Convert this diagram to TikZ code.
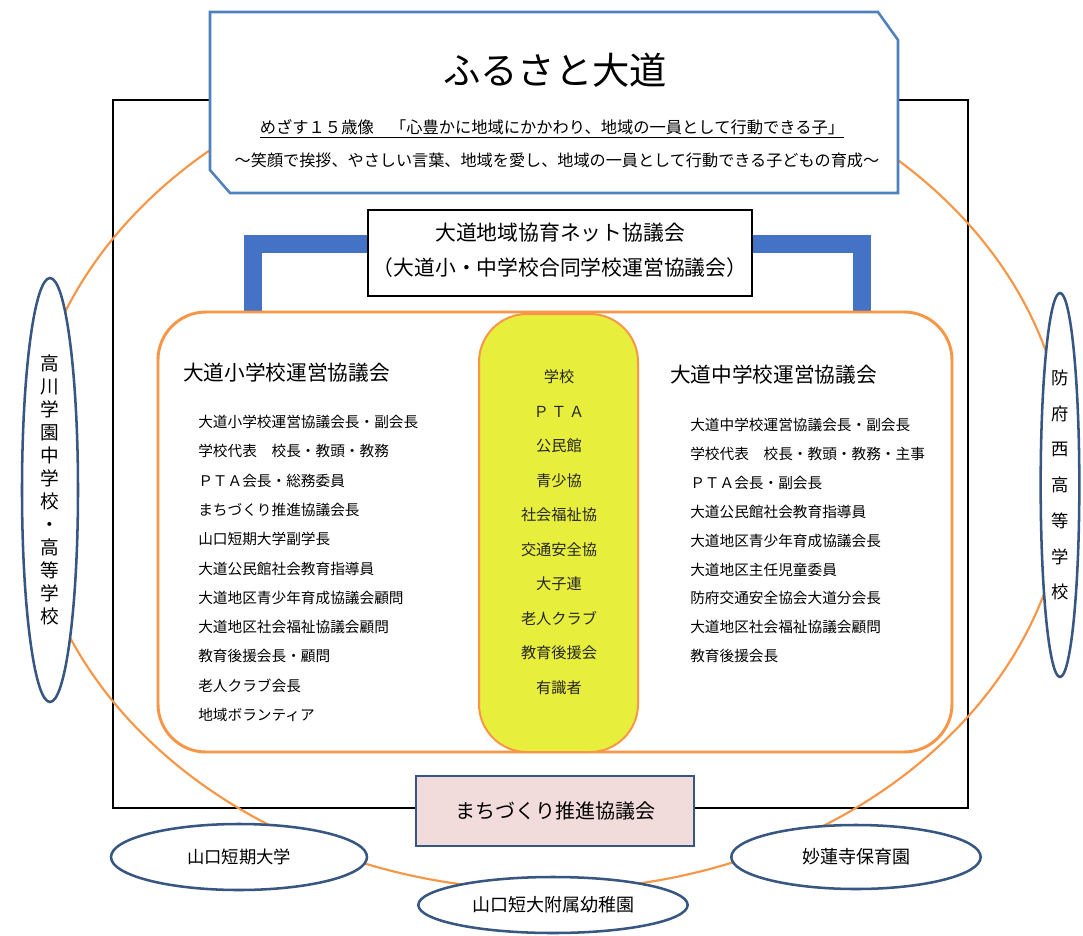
\documentclass[tikz,border=0pt]{standalone}
\usepackage{fontspec}
\setmainfont{Noto Sans CJK JP}
\usetikzlibrary{shapes.geometric}
\definecolor{tblue}{RGB}{79,129,189}
\definecolor{barblue}{RGB}{68,114,196}
\definecolor{orng}{RGB}{247,150,70}
\definecolor{ylw}{RGB}{232,238,60}
\definecolor{pinkc}{RGB}{242,220,219}
\definecolor{navy}{RGB}{56,86,130}
\tikzset{
  item/.style={font=\fontsize{11}{13}\selectfont, anchor=west, inner sep=0pt},
  citem/.style={font=\fontsize{11.4}{13}\selectfont, inner sep=0pt, text=black!85},
  ttl/.style={font=\fontsize{15.5}{18}\selectfont, anchor=west, inner sep=0pt},
  outer/.style={ellipse, draw=navy, line width=1.9pt, fill=white, inner sep=0pt},
}
\begin{document}
\begin{tikzpicture}[x=0.75pt,y=-0.75pt]
\useasboundingbox (0,0) rectangle (1083,936);
\fill[white] (0,0) rectangle (1083,936);
% black frame
\draw[black, line width=1.5pt] (113,100) rectangle (968,808);
% orange big ellipse
\draw[orng, line width=1.6pt] (547,470) ellipse [x radius=520, y radius=420];
% title box
\draw[tblue, line width=1.9pt, fill=white] (210,12) -- (878,12) -- (898,40) -- (898,193) -- (230,193) -- (210,170) -- cycle;
\node[inner sep=0pt, font=\fontsize{28}{30}\selectfont] (title) at (555,70) {ふるさと大道};
\node[inner sep=0pt, font=\fontsize{12.2}{14}\selectfont] (goal) at (552,127) {めざす１５歳像　「心豊かに地域にかかわり、地域の一員として行動できる子」};
\draw[black, line width=0.8pt] ([yshift=-2pt]goal.south west) -- ([yshift=-2pt]goal.south east);
\node[inner sep=0pt, font=\fontsize{12.1}{14}\selectfont] (motto) at (557,160) {～笑顔で挨拶、やさしい言葉、地域を愛し、地域の一員として行動できる子どもの育成～};
% blue brackets
\draw[barblue, line width=13pt, line join=miter] (370,244) -- (253,244) -- (253,312);
\draw[barblue, line width=13pt, line join=miter] (750,244) -- (862,244) -- (862,312);
% network box
\draw[black, line width=1.1pt, fill=white] (368,210) rectangle (752,296);
\node[inner sep=0pt, font=\fontsize{15.6}{18}\selectfont] (net1) at (560,233) {大道地域協育ネット協議会};
\node[inner sep=0pt, font=\fontsize{15.6}{18}\selectfont] (net2) at (560,268) {（大道小・中学校合同学校運営協議会）};
% orange rounded container
\draw[orng, line width=2.2pt, fill=white, rounded corners=36pt] (158,312) rectangle (952,752);
% yellow centre
\draw[orng, line width=1.5pt, fill=ylw, rounded corners=36pt] (479,314) rectangle (638,752);
% left column
\node[ttl] (lt) at (183,373) {大道小学校運営協議会};
\foreach \t [count=\i] in {大道小学校運営協議会長・副会長, 学校代表　校長・教頭・教務, ＰＴＡ会長・総務委員, まちづくり推進協議会長, 山口短期大学副学長, 大道公民館社会教育指導員, 大道地区青少年育成協議会顧問, 大道地区社会福祉協議会顧問, 教育後援会長・顧問, 老人クラブ会長, 地域ボランティア}
  \node[item] (l\i) at (198,{422+29.3*(\i-1)}) {\t};
% right column
\node[ttl] (rt) at (670,375) {大道中学校運営協議会};
\foreach \t [count=\i] in {大道中学校運営協議会長・副会長, 学校代表　校長・教頭・教務・主事, ＰＴＡ会長・副会長, 大道公民館社会教育指導員, 大道地区青少年育成協議会長, 大道地区主任児童委員, 防府交通安全協会大道分会長, 大道地区社会福祉協議会顧問, 教育後援会長}
  \node[item] (r\i) at (690,{425+28.9*(\i-1)}) {\t};
% centre column
\foreach \t [count=\i] in {学校, Ｐ\,Ｔ\,Ａ, 公民館, 青少協, 社会福祉協, 交通安全協, 大子連, 老人クラブ, 教育後援会, 有識者}
  \node[citem] (c\i) at (559,{377+34.5*(\i-1)}) {\t};
% machizukuri box
\draw[navy, line width=2.2pt, fill=pinkc] (416,776) rectangle (694,846);
\node[inner sep=0pt, font=\fontsize{15}{17}\selectfont] (machi) at (555,811) {まちづくり推進協議会};
% outer organisations
\node[outer, minimum width=42pt, minimum height=318pt, align=center, font=\fontsize{14}{17.25}\selectfont] (takagawa) at (50,490) {高\\川\\学\\園\\中\\学\\校\\・\\高\\等\\学\\校};
\node[outer, minimum width=29pt, minimum height=288pt, align=center, font=\fontsize{13}{26.8}\selectfont] (hofu) at (1060,485) {防\\府\\西\\高\\等\\学\\校};
\node[outer, minimum width=192pt, minimum height=49.5pt, font=\fontsize{13}{15}\selectfont] (tandai) at (239,857) {山口短期大学};
\node[outer, minimum width=202pt, minimum height=42pt, font=\fontsize{13.5}{15}\selectfont] (yochien) at (553,905) {山口短大附属幼稚園};
\node[outer, minimum width=187pt, minimum height=48pt, font=\fontsize{13.5}{15}\selectfont] (hoikuen) at (856,857) {妙蓮寺保育園};
\end{tikzpicture}
\end{document}
